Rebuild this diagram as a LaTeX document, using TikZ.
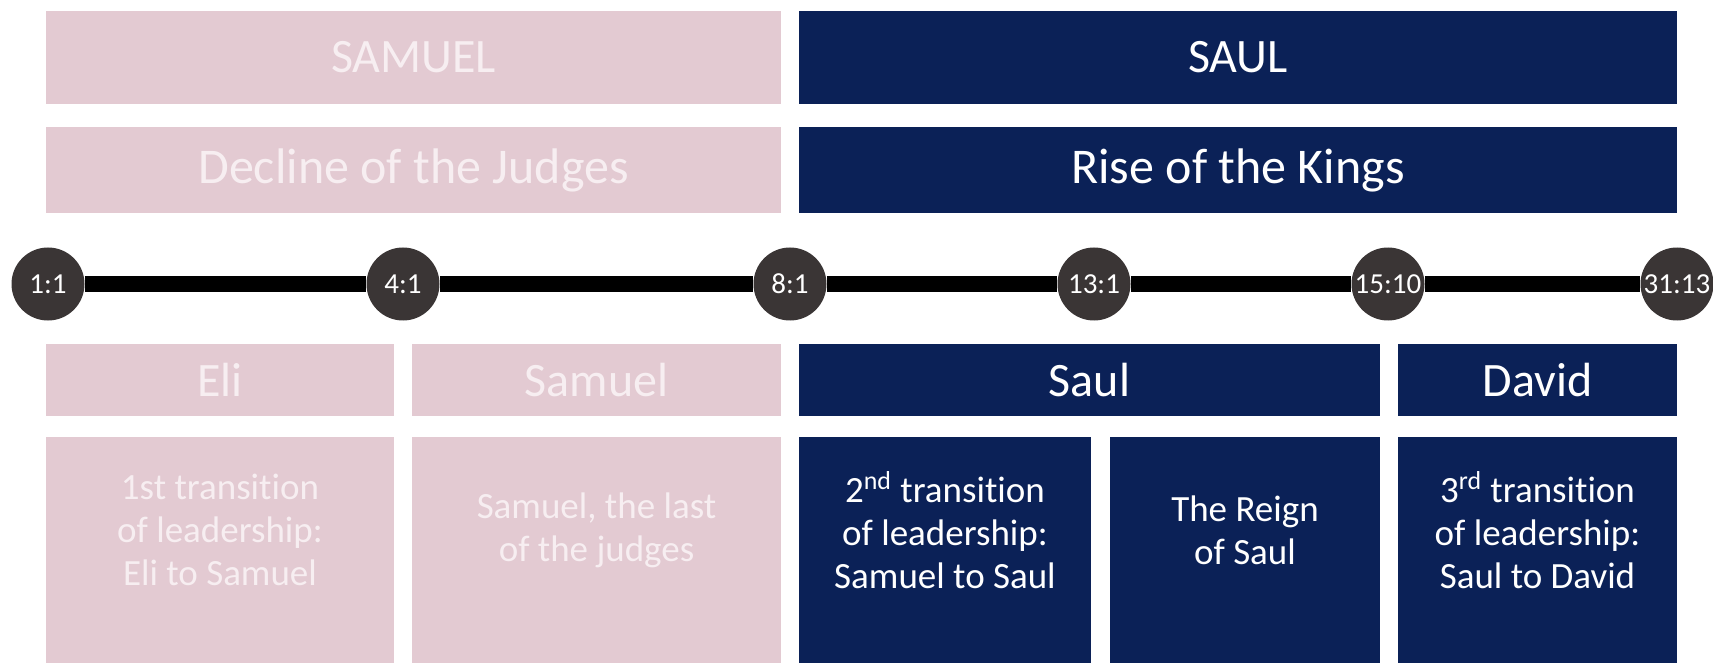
\documentclass[tikz,border=0pt]{standalone}
\usepackage{fontspec}
\setmainfont{Carlito}[Ligatures=NoCommon]
\usetikzlibrary{calc}
\definecolor{blush}{HTML}{E3CAD2}
\definecolor{blushtext}{HTML}{F7EEF1}
\definecolor{navy}{HTML}{0B2157}
\definecolor{dotgray}{HTML}{3A3535}

\begin{document}
\begin{tikzpicture}[x=0.5pt,y=-0.5pt]
      \tikzstyle{pink box}=[rectangle,fill=blush,text=blushtext,inner sep=0,align=center]
      \tikzstyle{navy box}=[rectangle,fill=navy,text=white,inner sep=0,align=center]
      \tikzstyle{head font}=[font=\fontsize{24}{28}\selectfont]
      \tikzstyle{era font}=[font=\fontsize{25}{30}\selectfont]
      \tikzstyle{note}=[align=center,inner sep=0,font=\fontsize{18.5}{21.5}\selectfont]
      \tikzstyle{verse}=[circle,fill=dotgray,text=white,inner sep=0,minimum size=36.5pt,font=\fontsize{14.5}{15}\selectfont]
      \useasboundingbox (0,0) rectangle (1713,663);
      % books
      \node(samuel)[pink box,head font,minimum width=367.5pt,minimum height=46.5pt] at (413.5,57.5) {SAMUEL};
      \node(saul)[navy box,head font,minimum width=439pt,minimum height=46.5pt] at (1238,57.5) {SAUL};
      \node(decline)[pink box,era font,minimum width=367.5pt,minimum height=43pt] at (413.5,170.5) {Decline of the Judges};
      \node(rise)[navy box,era font,minimum width=439pt,minimum height=43pt] at (1238,170.5) {Rise of the Kings};
      % timeline
      \node(v1)[verse] at (48,284) {1:1};
      \node(v2)[verse] at (403,284) {4:1};
      \node(v3)[verse] at (790,284) {8:1};
      \node(v4)[verse] at (1094,284) {13:1};
      \node(v5)[verse] at (1388,284) {15:10};
      \node(v6)[verse] at (1677,284) {31:13};
      \foreach \a/\b in {v1/v2,v2/v3,v3/v4,v4/v5,v5/v6}
          \draw[line width=8pt] (\a) -- (\b);
      % leaders
      \node(eli)[pink box,head font,minimum width=174pt,minimum height=36pt] at (220,380) {Eli};
      \node(judge)[pink box,head font,minimum width=184.5pt,minimum height=36pt] at (596.5,380) {Samuel};
      \node(king)[navy box,head font,minimum width=290.5pt,minimum height=36pt] at (1089.5,380) {Saul};
      \node(david)[navy box,head font,minimum width=139.5pt,minimum height=36pt] at (1537.5,380) {David};
      % sections
      \node(s1)[pink box,minimum width=174pt,minimum height=113pt] at (220,550) {};
      \node(s2)[pink box,minimum width=184.5pt,minimum height=113pt] at (596.5,550) {};
      \node(s3)[navy box,minimum width=146pt,minimum height=113pt] at (945,550) {};
      \node(s4)[navy box,minimum width=135pt,minimum height=113pt] at (1245,550) {};
      \node(s5)[navy box,minimum width=139.5pt,minimum height=113pt] at (1537.5,550) {};
      \node(t1)[note,text=blushtext] at (s1.center|-0,530) {1st transition\\of leadership:\\Eli to Samuel};
      \node(t2)[note,text=blushtext] at (s2.center|-0,530) {Samuel, the last\\of the judges};
      \node(t3)[note,text=white] at (s3.center|-0,530) {2\textsuperscript{nd} transition\\of leadership:\\Samuel to Saul};
      \node(t4)[note,text=white] at (s4.center|-0,530) {The Reign\\of Saul};
      \node(t5)[note,text=white] at (s5.center|-0,530) {3\textsuperscript{rd} transition\\of leadership:\\Saul to David};
\end{tikzpicture}
\end{document}
